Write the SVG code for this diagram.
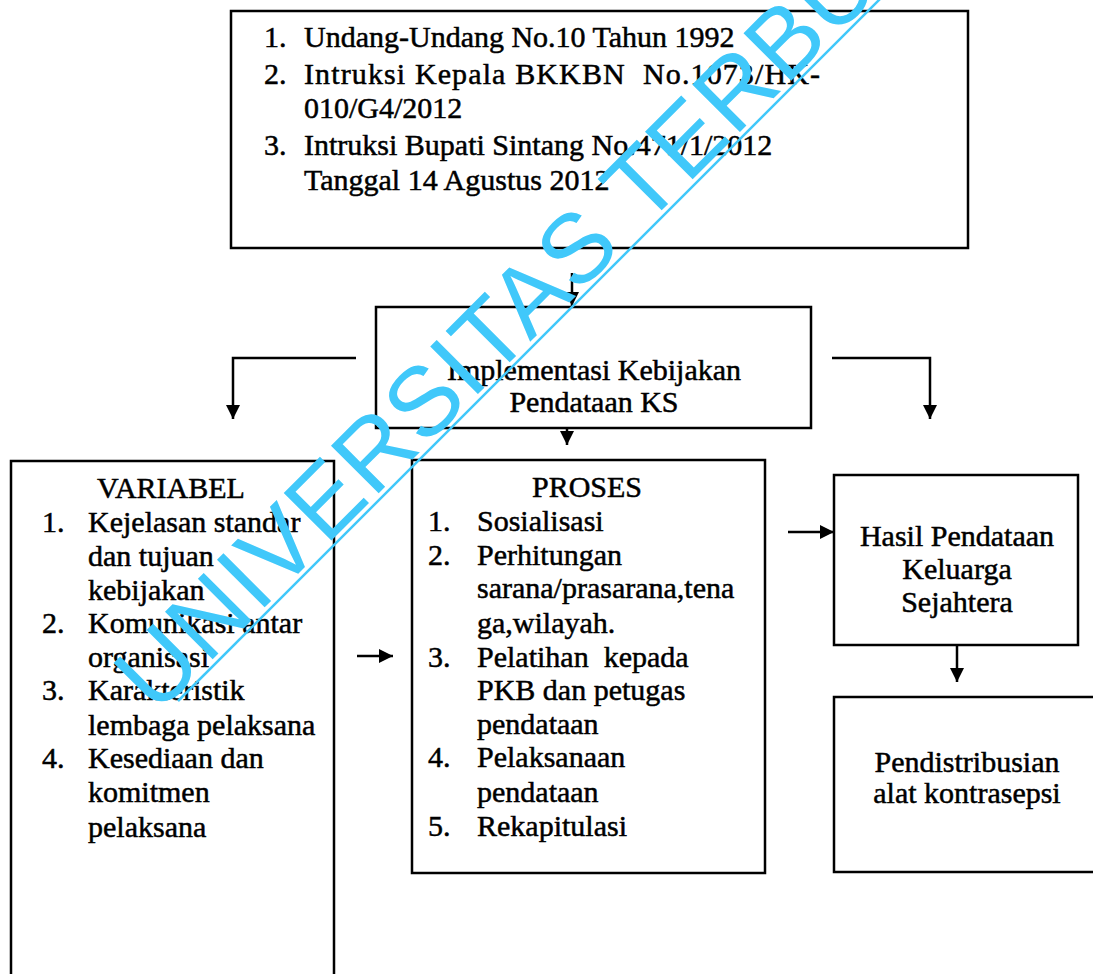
<svg xmlns="http://www.w3.org/2000/svg" width="1093" height="974" viewBox="0 0 1093 974">
<style>
.box{fill:none;stroke:#000;stroke-width:2.5}
.t{font-family:"Liberation Serif","Times New Roman",serif;font-size:30px;fill:#000;stroke:#000;stroke-width:0.5;white-space:pre}
.c{text-anchor:middle}
.conn{fill:none;stroke:#000;stroke-width:2.5}
.wm{font-family:"Liberation Sans",Arial,sans-serif;font-size:98px;fill:#40C8FA;letter-spacing:1.5px}
</style>
<defs>
<marker id="arr" viewBox="0 0 10 10" refX="10" refY="5" markerWidth="14" markerHeight="14" markerUnits="userSpaceOnUse" orient="auto">
<path d="M0,0 L10,5 L0,10 z" fill="#000"/>
</marker>
</defs>
<rect width="1093" height="974" fill="#fff"/>

<g id="dasar-hukum">
<rect class="box" x="231" y="11" width="737" height="237"/>
<text class="t" x="264" y="47">1.</text>
<text class="t" x="304" y="47">Undang-Undang No.10 Tahun 1992</text>
<text class="t" x="264" y="84">2.</text>
<text class="t" x="304" y="84" textLength="516" lengthAdjust="spacing">Intruksi Kepala BKKBN  No.1073/HK-</text>
<text class="t" x="304" y="118">010/G4/2012</text>
<text class="t" x="264" y="155">3.</text>
<text class="t" x="304" y="155">Intruksi Bupati Sintang No.471/1/2012</text>
<text class="t" x="304" y="190">Tanggal 14 Agustus 2012</text>
</g>

<g id="implementasi">
<rect class="box" x="376" y="307" width="435" height="121"/>
<text class="t c" x="594" y="380">Implementasi Kebijakan</text>
<text class="t c" x="594" y="412">Pendataan KS</text>
</g>

<g id="variabel">
<path class="box" d="M11,974 V461 H334 V974"/>
<text class="t c" x="171" y="498">VARIABEL</text>
<text class="t" x="42" y="532">1.</text>
<text class="t" x="88" y="532">Kejelasan standar</text>
<text class="t" x="88" y="566">dan tujuan</text>
<text class="t" x="88" y="600">kebijakan</text>
<text class="t" x="42" y="633">2.</text>
<text class="t" x="88" y="633">Komunikasi antar</text>
<text class="t" x="88" y="667">organisasi</text>
<text class="t" x="42" y="700">3.</text>
<text class="t" x="88" y="700">Karakteristik</text>
<text class="t" x="88" y="735">lembaga pelaksana</text>
<text class="t" x="42" y="768">4.</text>
<text class="t" x="88" y="768">Kesediaan dan</text>
<text class="t" x="88" y="802">komitmen</text>
<text class="t" x="88" y="837">pelaksana</text>
</g>

<g id="proses">
<rect class="box" x="412" y="460" width="353" height="413"/>
<text class="t c" x="587" y="497">PROSES</text>
<text class="t" x="428" y="531">1.</text>
<text class="t" x="477" y="531">Sosialisasi</text>
<text class="t" x="428" y="565">2.</text>
<text class="t" x="477" y="565">Perhitungan</text>
<text class="t" x="477" y="598">sarana/prasarana,tena</text>
<text class="t" x="477" y="633">ga,wilayah.</text>
<text class="t" x="428" y="667">3.</text>
<text class="t" x="477" y="667">Pelatihan  kepada</text>
<text class="t" x="477" y="700">PKB dan petugas</text>
<text class="t" x="477" y="734">pendataan</text>
<text class="t" x="428" y="767">4.</text>
<text class="t" x="477" y="767">Pelaksanaan</text>
<text class="t" x="477" y="802">pendataan</text>
<text class="t" x="428" y="836">5.</text>
<text class="t" x="477" y="836">Rekapitulasi</text>
</g>

<g id="hasil">
<rect class="box" x="834" y="475" width="244" height="170"/>
<text class="t c" x="957" y="546">Hasil Pendataan</text>
<text class="t c" x="957" y="579">Keluarga</text>
<text class="t c" x="957" y="612">Sejahtera</text>
</g>

<g id="distribusi">
<path class="box" d="M1093,697 H834 V872 H1093"/>
<text class="t c" x="967" y="772">Pendistribusian</text>
<text class="t c" x="967" y="803">alat kontrasepsi</text>
</g>

<g id="connectors">
<path class="conn" d="M572,273 V306" marker-end="url(#arr)"/>
<path class="conn" d="M356,358 H233 V419" marker-end="url(#arr)"/>
<path class="conn" d="M832,358 H930 V419" marker-end="url(#arr)"/>
<path class="conn" d="M567,428 V445" marker-end="url(#arr)"/>
<path class="conn" d="M357,656 H393" marker-end="url(#arr)"/>
<path class="conn" d="M788,532 H834" marker-end="url(#arr)"/>
<path class="conn" d="M957,645 V682" marker-end="url(#arr)"/>
</g>

<g id="watermark">
<line x1="178" y1="701" x2="883" y2="-4" stroke="#40C8FA" stroke-width="2.5"/>
<text class="wm" transform="translate(156,716) rotate(-45)">UNIVERSITAS TERBUKA</text>
</g>
</svg>
